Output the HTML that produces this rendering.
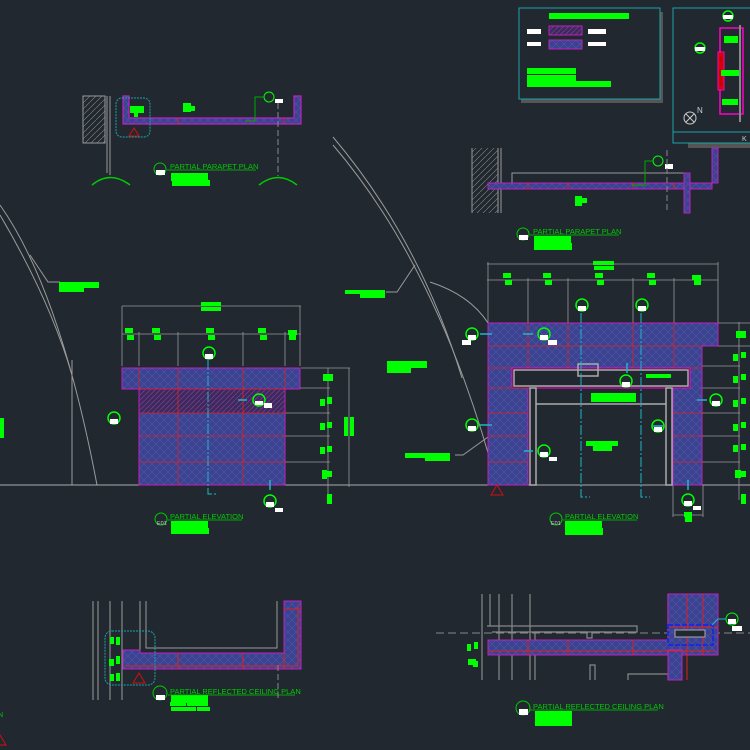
<!DOCTYPE html>
<html><head><meta charset="utf-8"><style>
html,body{margin:0;padding:0;background:#212830;}
svg{display:block}
text{font-family:"Liberation Sans",sans-serif;}
</style></head><body>
<svg width="750" height="750" viewBox="0 0 750 750" xmlns="http://www.w3.org/2000/svg">
<defs>
<pattern id="h" width="8" height="8" patternUnits="userSpaceOnUse">
<rect width="8" height="8" fill="#3b4290"/>
<path d="M0 0L8 8M8 0L0 8" stroke="#4e56a8" stroke-width="0.6"/>
</pattern>
<pattern id="hd" width="5" height="5" patternUnits="userSpaceOnUse">
<rect width="5" height="5" fill="#3a2a60"/>
<path d="M0 5L5 0" stroke="#7a3a80" stroke-width="0.8"/>
</pattern>
<pattern id="wall" width="6" height="6" patternUnits="userSpaceOnUse">
<path d="M0 6L6 0" stroke="#888" stroke-width="0.6"/>
</pattern>
</defs>
<rect width="750" height="750" fill="#212830"/>

<!-- Curves -->
<g fill="none" stroke="#9a9a9a" stroke-width="1">
<path d="M0 205 Q60 290 97 485"/>
<path d="M0 215 Q50 300 72 375"/>
<line x1="72" y1="360" x2="72" y2="485"/>
<path d="M333 137 Q420 240 462 378"/>
<path d="M333 145 Q440 270 497 485"/>
<path d="M430 282 Q470 295 488 323"/>
<line x1="0" y1="485" x2="750" y2="485" stroke="#aaa"/>
<polyline points="30,255 48,282 60,282"/>
<polyline points="415,265 397,292 386,292"/>
<polyline points="488,437 463,455 455,455"/>
</g>

<!-- Legend box -->
<rect x="521" y="12" width="142" height="91" fill="#555"/>
<rect x="519" y="8" width="141" height="91" fill="#212830" stroke="#1aa3a8" stroke-width="1"/>
<rect x="549" y="13" width="80" height="6" fill="#00ff00"/>
<rect x="527" y="29" width="14" height="5" fill="#fff"/>
<rect x="549" y="26" width="33" height="9" fill="url(#hd)" stroke="#c020c0"/>
<rect x="588" y="29" width="18" height="5" fill="#fff"/>
<rect x="527" y="42" width="14" height="4" fill="#fff"/>
<rect x="549" y="40" width="33" height="9" fill="url(#h)" stroke="#c020c0"/>
<rect x="588" y="42" width="18" height="4" fill="#fff"/>
<rect x="527" y="68" width="49" height="6" fill="#00ff00"/>
<rect x="527" y="75" width="49" height="12" fill="#00ff00"/>
<rect x="527" y="81" width="84" height="6" fill="#00ff00"/>

<!-- Key plan -->
<rect x="688" y="143" width="62" height="5" fill="#555"/>
<rect x="673" y="8" width="80" height="135" fill="#212830" stroke="#1aa3a8"/>
<line x1="673" y1="132" x2="750" y2="132" stroke="#1aa3a8"/>
<text x="742" y="141" font-size="7" fill="#ccc">K</text>
<rect x="720" y="28" width="23" height="86" fill="none" stroke="#ff00cc" stroke-width="1.5"/>
<rect x="718" y="52" width="6" height="38" fill="#c00" stroke="#ff00cc"/>
<rect x="724" y="36" width="14" height="7" fill="#00ff00"/>
<rect x="721" y="70" width="18" height="6" fill="#00ff00"/>
<rect x="722" y="99" width="16" height="6" fill="#00ff00"/>
<line x1="740" y1="25" x2="740" y2="122" stroke="#888" stroke-width="2"/>
<circle cx="728" cy="16" r="5" fill="none" stroke="#00ff00" stroke-width="1.5"/><rect x="723" y="15" width="10" height="4" fill="#fff"/>
<circle cx="700" cy="48" r="5" fill="none" stroke="#00ff00" stroke-width="1.5"/><rect x="695" y="47" width="10" height="4" fill="#fff"/>
<circle cx="690" cy="118" r="6" fill="none" stroke="#ccc"/><path d="M686 114L694 122M694 114L686 122" stroke="#ccc"/>
<text x="697" y="113" font-size="8" fill="#ccc">N</text>

<!-- Plan 8 (top left) -->
<rect x="83" y="96" width="22" height="47" fill="url(#wall)" stroke="#999"/>
<line x1="107" y1="96" x2="107" y2="173" stroke="#999"/>
<line x1="110" y1="96" x2="110" y2="175" stroke="#999"/>
<path d="M123 96 L123 124 L301 124 L301 96 L294 96 L294 118 L129 118 L129 96 Z" fill="url(#h)" stroke="#c020c0" stroke-width="1.2"/>
<line x1="178" y1="118" x2="178" y2="124" stroke="#e02020"/><line x1="284" y1="118" x2="284" y2="124" stroke="#e02020"/>
<rect x="116" y="98" width="34" height="39" rx="6" fill="none" stroke="#1aa3a8" stroke-dasharray="2,1"/>
<path d="M134 128L129 136L139 136Z" fill="none" stroke="#d01010"/>
<rect x="130" y="106" width="14" height="7" fill="#00ff00"/><rect x="134" y="110" width="4" height="7" fill="#00ff00"/>
<rect x="183" y="103" width="8" height="9" fill="#00ff00"/><rect x="190" y="106" width="5" height="5" fill="#00ff00"/>
<circle cx="269" cy="97" r="5" fill="none" stroke="#00ff00"/><rect x="275" y="99" width="8" height="4" fill="#fff"/>
<polyline points="265,97 255,97 255,121 245,121" fill="none" stroke="#00aa00"/>
<line x1="278" y1="103" x2="278" y2="176" stroke="#888" stroke-dasharray="6,3"/>
<path d="M92 185 Q110 170 130 185" fill="none" stroke="#00cc00" stroke-width="1.5"/>
<path d="M259 185 Q278 170 297 185" fill="none" stroke="#00cc00" stroke-width="1.5"/>
<circle cx="160" cy="169" r="6" fill="none" stroke="#00cc00"/><rect x="156" y="170" width="9" height="5" fill="#fff"/>
<text x="170" y="169" font-size="7.5" fill="#00cc00">PARTIAL PARAPET PLAN</text>
<line x1="167" y1="170" x2="256" y2="170" stroke="#00cc00" stroke-width="0.7"/>
<rect x="171" y="173" width="37" height="8" fill="#00ff00"/><rect x="172" y="180" width="38" height="6" fill="#00ff00"/>
<rect x="59" y="282" width="40" height="6" fill="#00ff00"/><rect x="59" y="286" width="25" height="6" fill="#00ff00"/>

<!-- Plan 9 (top right) -->
<rect x="472" y="148" width="26" height="65" fill="url(#wall)"/>
<line x1="472" y1="148" x2="472" y2="213" stroke="#999"/><line x1="498" y1="148" x2="498" y2="213" stroke="#999"/><line x1="501" y1="148" x2="501" y2="213" stroke="#999"/>
<rect x="512" y="173" width="172" height="10" fill="none" stroke="#999"/>
<path d="M488 183 L718 183 L718 148 L712 148 L712 189 L488 189 Z" fill="url(#h)" stroke="#c020c0"/>
<rect x="684" y="173" width="6" height="40" fill="url(#h)" stroke="#c020c0"/>
<line x1="528" y1="183" x2="528" y2="189" stroke="#e02020"/><line x1="568" y1="183" x2="568" y2="189" stroke="#e02020"/><line x1="633" y1="183" x2="633" y2="189" stroke="#e02020"/><line x1="674" y1="183" x2="674" y2="189" stroke="#e02020"/>
<circle cx="658" cy="161" r="5" fill="none" stroke="#00ff00"/><rect x="665" y="164" width="8" height="5" fill="#fff"/>
<polyline points="653,161 645,161 645,185 632,185" fill="none" stroke="#00aa00"/>
<rect x="575" y="196" width="7" height="10" fill="#00ff00"/><rect x="582" y="198" width="5" height="5" fill="#00ff00"/>
<line x1="667" y1="150" x2="667" y2="213" stroke="#888" stroke-dasharray="6,3"/>
<circle cx="523" cy="234" r="6" fill="none" stroke="#00cc00"/><rect x="519" y="235" width="9" height="5" fill="#fff"/>
<text x="533" y="234" font-size="7.5" fill="#00cc00">PARTIAL PARAPET PLAN</text>
<line x1="530" y1="235" x2="619" y2="235" stroke="#00cc00" stroke-width="0.7"/>
<rect x="534" y="236" width="37" height="7" fill="#00ff00"/><rect x="534" y="243" width="38" height="7" fill="#00ff00"/>

<!-- Elevation 2 -->
<g stroke="#999" fill="none" stroke-width="0.8">
<line x1="122" y1="306" x2="301" y2="306"/>
<line x1="122" y1="334" x2="301" y2="334"/>
<line x1="122" y1="306" x2="122" y2="366"/><line x1="139" y1="332" x2="139" y2="366"/><line x1="178" y1="332" x2="178" y2="366"/><line x1="243" y1="332" x2="243" y2="366"/><line x1="285" y1="332" x2="285" y2="366"/><line x1="300" y1="306" x2="300" y2="366"/>
<line x1="301" y1="368" x2="350" y2="368"/><line x1="285" y1="388" x2="330" y2="388"/><line x1="285" y1="413" x2="330" y2="413"/><line x1="285" y1="436" x2="330" y2="436"/><line x1="285" y1="462" x2="330" y2="462"/>
<line x1="328" y1="368" x2="328" y2="500"/><line x1="349" y1="368" x2="349" y2="487"/>
</g>
<rect x="122" y="368" width="178" height="21" fill="url(#h)" stroke="#c020c0"/>
<rect x="139" y="389" width="146" height="24" fill="url(#hd)"/>
<rect x="139" y="413" width="146" height="72" fill="url(#h)"/>
<rect x="139" y="389" width="146" height="96" fill="none" stroke="#c020c0"/>
<g stroke="#e02020" stroke-width="0.8">
<line x1="139" y1="368" x2="139" y2="389"/><line x1="178" y1="368" x2="178" y2="485"/><line x1="243" y1="368" x2="243" y2="485"/><line x1="285" y1="368" x2="285" y2="389"/>
<line x1="139" y1="389" x2="285" y2="389"/><line x1="139" y1="413" x2="285" y2="413"/><line x1="139" y1="436" x2="285" y2="436"/><line x1="139" y1="462" x2="285" y2="462"/>
</g>
<polyline points="208,360 208,494 217,494" fill="none" stroke="#1ab8c8" stroke-dasharray="10,2,2,2"/>
<line x1="238" y1="400" x2="247" y2="400" stroke="#1ab8c8" stroke-width="1.5"/>
<line x1="270" y1="480" x2="270" y2="490" stroke="#1ab8c8" stroke-width="1.5"/>
<g fill="none" stroke="#00ff00" stroke-width="1.5">
<circle cx="209" cy="353" r="6"/><circle cx="259" cy="400" r="6"/><circle cx="270" cy="501" r="6"/><circle cx="114" cy="418" r="6"/>
</g>
<g fill="#fff"><rect x="205" y="354" width="8" height="5"/><rect x="255" y="401" width="8" height="4"/><rect x="264" y="403" width="8" height="5"/><rect x="266" y="502" width="8" height="5"/><rect x="275" y="508" width="8" height="4"/><rect x="110" y="419" width="8" height="5"/></g>
<g fill="#00ff00">
<rect x="201" y="302" width="20" height="4"/><rect x="201" y="307" width="20" height="4"/>
<rect x="125" y="328" width="8" height="5"/><rect x="127" y="335" width="7" height="5"/>
<rect x="152" y="328" width="8" height="5"/><rect x="154" y="335" width="7" height="5"/>
<rect x="206" y="328" width="8" height="5"/><rect x="208" y="335" width="7" height="5"/>
<rect x="258" y="328" width="8" height="5"/><rect x="260" y="335" width="7" height="5"/>
<rect x="288" y="330" width="9" height="5"/><rect x="289" y="335" width="7" height="5"/>
<rect x="323" y="374" width="10" height="7"/>
<rect x="320" y="399" width="5" height="7"/><rect x="327" y="397" width="5" height="7"/>
<rect x="320" y="423" width="5" height="7"/><rect x="327" y="422" width="5" height="6"/>
<rect x="320" y="447" width="5" height="7"/><rect x="327" y="446" width="5" height="6"/>
<rect x="322" y="470" width="5" height="9"/><rect x="326" y="471" width="6" height="6"/>
<rect x="327" y="494" width="5" height="10"/>
<rect x="344" y="417" width="4" height="19"/><rect x="350" y="417" width="4" height="19"/>
<rect x="0" y="418" width="4" height="20"/>
<rect x="171" y="521" width="37" height="8"/><rect x="171" y="528" width="38" height="6"/>
<rect x="387" y="361" width="40" height="7"/><rect x="387" y="366" width="24" height="7"/>
<rect x="345" y="290" width="40" height="4"/><rect x="360" y="290" width="25" height="8"/>
<rect x="405" y="453" width="45" height="5"/><rect x="425" y="455" width="25" height="6"/>
</g>
<circle cx="161" cy="519" r="6" fill="none" stroke="#00cc00"/>
<text x="157" y="525" font-size="5.5" fill="#ccc">E01</text>
<text x="170" y="519" font-size="7.5" fill="#00cc00">PARTIAL ELEVATION</text>
<line x1="168" y1="520" x2="242" y2="520" stroke="#00cc00" stroke-width="0.7"/>

<!-- Elevation 3 -->
<g stroke="#999" fill="none" stroke-width="0.8">
<line x1="487" y1="264" x2="718" y2="264"/><line x1="487" y1="280" x2="718" y2="280"/>
<line x1="488" y1="262" x2="488" y2="323"/><line x1="528" y1="278" x2="528" y2="323"/><line x1="568" y1="278" x2="568" y2="323"/><line x1="633" y1="278" x2="633" y2="323"/><line x1="674" y1="278" x2="674" y2="323"/><line x1="718" y1="262" x2="718" y2="323"/>
<line x1="718" y1="323" x2="750" y2="323"/><line x1="702" y1="346" x2="750" y2="346"/><line x1="702" y1="366" x2="740" y2="366"/><line x1="702" y1="388" x2="740" y2="388"/><line x1="702" y1="413" x2="740" y2="413"/><line x1="702" y1="436" x2="740" y2="436"/><line x1="702" y1="462" x2="740" y2="462"/>
<line x1="739" y1="322" x2="739" y2="500"/>
<line x1="673" y1="485" x2="673" y2="517"/><line x1="703" y1="485" x2="703" y2="517"/><line x1="673" y1="515" x2="703" y2="515"/>
</g>
<path d="M488 323 L718 323 L718 346 L702 346 L702 485 L673 485 L673 388 L528 388 L528 485 L488 485 Z" fill="url(#h)" stroke="#c020c0"/>
<rect x="512" y="368" width="178" height="20" fill="#212830" stroke="#ff00cc"/>
<g stroke="#e02020" stroke-width="0.8">
<line x1="528" y1="323" x2="528" y2="368"/><line x1="568" y1="323" x2="568" y2="368"/><line x1="633" y1="323" x2="633" y2="368"/><line x1="674" y1="323" x2="674" y2="368"/>
<line x1="488" y1="346" x2="702" y2="346"/><line x1="488" y1="368" x2="512" y2="368"/><line x1="690" y1="368" x2="702" y2="368"/>
<line x1="488" y1="388" x2="528" y2="388"/><line x1="488" y1="413" x2="528" y2="413"/><line x1="488" y1="436" x2="528" y2="436"/><line x1="488" y1="462" x2="528" y2="462"/>
<line x1="673" y1="413" x2="702" y2="413"/><line x1="673" y1="436" x2="702" y2="436"/><line x1="673" y1="462" x2="702" y2="462"/>
</g>
<g fill="none" stroke="#aaa" stroke-width="1.5">
<rect x="514" y="370" width="174" height="16"/>
<rect x="530" y="388" width="6" height="97"/><rect x="666" y="388" width="6" height="97"/>
<line x1="536" y1="404" x2="666" y2="404"/>
<rect x="578" y="364" width="20" height="12"/>
</g>
<g fill="#00ff00">
<rect x="646" y="374" width="25" height="4"/>
<rect x="591" y="393" width="45" height="9"/>
<rect x="586" y="441" width="32" height="5"/><rect x="593" y="444" width="19" height="7"/>
<rect x="593" y="261" width="21" height="4"/><rect x="594" y="266" width="20" height="4"/>
<rect x="503" y="273" width="8" height="5"/><rect x="505" y="280" width="7" height="5"/>
<rect x="543" y="273" width="8" height="5"/><rect x="545" y="280" width="7" height="5"/>
<rect x="595" y="273" width="8" height="5"/><rect x="597" y="280" width="7" height="5"/>
<rect x="647" y="273" width="8" height="5"/><rect x="649" y="280" width="7" height="5"/>
<rect x="692" y="275" width="9" height="5"/><rect x="694" y="280" width="7" height="5"/>
<rect x="736" y="331" width="10" height="7"/>
<rect x="733" y="354" width="5" height="7"/><rect x="741" y="352" width="5" height="6"/>
<rect x="733" y="376" width="5" height="7"/><rect x="741" y="374" width="5" height="6"/>
<rect x="733" y="400" width="5" height="7"/><rect x="741" y="398" width="5" height="6"/>
<rect x="733" y="424" width="5" height="7"/><rect x="741" y="422" width="5" height="6"/>
<rect x="733" y="445" width="5" height="7"/><rect x="741" y="444" width="5" height="6"/>
<rect x="735" y="470" width="6" height="8"/><rect x="740" y="471" width="6" height="6"/>
<rect x="741" y="494" width="5" height="10"/>
<rect x="684" y="512" width="8" height="5"/><rect x="685" y="517" width="7" height="5"/>
<rect x="565" y="521" width="37" height="8"/><rect x="565" y="528" width="38" height="7"/>
</g>
<g stroke="#1ab8c8" fill="none" stroke-dasharray="10,2,2,2">
<polyline points="581,313 581,497 590,497"/><polyline points="641,313 641,497 650,497"/>
</g>
<g stroke="#1ab8c8" stroke-width="1.5">
<line x1="480" y1="334" x2="492" y2="334"/><line x1="523" y1="334" x2="533" y2="334"/><line x1="480" y1="425" x2="492" y2="425"/><line x1="524" y1="451" x2="533" y2="451"/>
<line x1="627" y1="363" x2="627" y2="373"/><line x1="653" y1="426" x2="663" y2="426"/><line x1="697" y1="400" x2="707" y2="400"/><line x1="688" y1="480" x2="688" y2="490"/>
</g>
<g fill="none" stroke="#00ff00" stroke-width="1.5">
<circle cx="582" cy="305" r="6"/><circle cx="642" cy="305" r="6"/><circle cx="472" cy="334" r="6"/><circle cx="544" cy="334" r="6"/><circle cx="626" cy="381" r="6"/><circle cx="716" cy="400" r="6"/><circle cx="472" cy="425" r="6"/><circle cx="658" cy="426" r="6"/><circle cx="544" cy="451" r="6"/><circle cx="688" cy="500" r="6"/>
</g>
<g fill="#fff">
<rect x="578" y="306" width="8" height="5"/><rect x="638" y="306" width="8" height="5"/><rect x="468" y="335" width="8" height="5"/><rect x="462" y="340" width="9" height="5"/><rect x="540" y="335" width="8" height="5"/><rect x="548" y="340" width="9" height="5"/><rect x="622" y="382" width="8" height="5"/><rect x="712" y="401" width="8" height="5"/><rect x="468" y="426" width="8" height="5"/><rect x="654" y="427" width="8" height="5"/><rect x="540" y="452" width="8" height="5"/><rect x="549" y="457" width="8" height="4"/><rect x="684" y="501" width="8" height="5"/><rect x="693" y="506" width="8" height="4"/>
</g>
<path d="M497 485L491 495L503 495Z" fill="none" stroke="#d01010"/>
<circle cx="556" cy="519" r="6" fill="none" stroke="#00cc00"/>
<text x="551" y="525" font-size="5.5" fill="#ccc">E01</text>
<text x="565" y="519" font-size="7.5" fill="#00cc00">PARTIAL ELEVATION</text>
<line x1="563" y1="520" x2="637" y2="520" stroke="#00cc00" stroke-width="0.7"/>

<!-- RCP 5 (bottom left) -->
<g stroke="#888" stroke-width="1.2">
<line x1="93" y1="601" x2="93" y2="700"/><line x1="98" y1="601" x2="98" y2="700"/><line x1="110" y1="601" x2="110" y2="700"/><line x1="122" y1="601" x2="122" y2="700"/><line x1="140" y1="601" x2="140" y2="650"/>
</g>
<polyline points="146,601 146,648 277,648 277,601" fill="none" stroke="#999"/>
<path d="M123 650 L140 650 L140 653 L284 653 L284 601 L301 601 L301 669 L123 669 Z" fill="url(#h)" stroke="#c020c0"/>
<g stroke="#e02020"><line x1="125" y1="666" x2="298" y2="666"/><line x1="298" y1="605" x2="298" y2="666"/><line x1="178" y1="653" x2="178" y2="669"/><line x1="243" y1="653" x2="243" y2="669"/><line x1="284" y1="653" x2="284" y2="669"/><line x1="284" y1="609" x2="301" y2="609"/></g>
<rect x="105" y="631" width="50" height="54" rx="7" fill="none" stroke="#1aa3a8" stroke-dasharray="2,1"/>
<path d="M139 673L133 683L145 683Z" fill="none" stroke="#d01010"/>
<g fill="#00ff00"><rect x="110" y="637" width="4" height="7"/><rect x="116" y="637" width="4" height="8"/><rect x="109" y="659" width="5" height="7"/><rect x="116" y="656" width="4" height="8"/><rect x="110" y="674" width="4" height="7"/><rect x="116" y="673" width="4" height="8"/>
<rect x="171" y="695" width="37" height="8"/><rect x="170" y="702" width="16" height="4"/><rect x="187" y="702" width="21" height="4"/><rect x="171" y="707" width="25" height="4"/><rect x="197" y="707" width="13" height="4"/></g>
<circle cx="160" cy="693" r="7" fill="none" stroke="#00cc00"/><rect x="156" y="695" width="9" height="5" fill="#fff"/>
<text x="170" y="694" font-size="7.5" fill="#00cc00">PARTIAL REFLECTED CEILING PLAN</text>
<line x1="168" y1="695" x2="295" y2="695" stroke="#00cc00" stroke-width="0.7"/>
<line x1="278" y1="665" x2="278" y2="700" stroke="#888" stroke-dasharray="6,3"/>
<text x="-2" y="717" font-size="7" fill="#00cc00">N</text>
<path d="M0 735L6 745L-6 745Z" fill="none" stroke="#d01010"/>

<!-- RCP 6 (bottom right) -->
<line x1="436" y1="633" x2="750" y2="633" stroke="#888" stroke-dasharray="8,4"/>
<g stroke="#888" stroke-width="1.2" fill="none">
<line x1="482" y1="594" x2="482" y2="680"/><line x1="490" y1="594" x2="490" y2="626"/><line x1="499" y1="594" x2="499" y2="680"/><line x1="512" y1="594" x2="512" y2="680"/><line x1="530" y1="594" x2="530" y2="680"/>
<polyline points="487,626 637,626 637,632 492,632"/>
<polyline points="535,680 535,632 587,632 587,638 592,638 592,632 605,632"/>
<polyline points="590,680 590,665 595,665 595,680"/>
<polyline points="628,680 628,674 668,674 668,680"/>
<line x1="670" y1="594" x2="670" y2="680"/><line x1="668" y1="594" x2="668" y2="640"/>
</g>
<path d="M488 640 L668 640 L668 594 L718 594 L718 655 L488 655 Z" fill="url(#h)" stroke="#c020c0"/>
<rect x="668" y="650" width="14" height="30" fill="url(#h)" stroke="#c020c0"/>
<g stroke="#e02020"><line x1="488" y1="651" x2="715" y2="651"/><line x1="528" y1="640" x2="528" y2="655"/><line x1="568" y1="640" x2="568" y2="655"/><line x1="633" y1="640" x2="633" y2="655"/><line x1="703" y1="594" x2="703" y2="655"/><line x1="687" y1="594" x2="687" y2="680"/><line x1="668" y1="627" x2="718" y2="627"/></g>
<rect x="668" y="625" width="45" height="20" fill="none" stroke="#1a2ae0" stroke-width="2" stroke-dasharray="5,2"/>
<rect x="675" y="630" width="30" height="7" fill="#212830" stroke="#aaa"/>
<circle cx="732" cy="619" r="6" fill="none" stroke="#00ff00"/><rect x="728" y="619" width="8" height="5" fill="#fff"/><rect x="732" y="626" width="10" height="5" fill="#fff"/>
<polyline points="726,619 718,619 712,625" fill="none" stroke="#1ab8c8"/>
<g fill="#00ff00"><rect x="467" y="644" width="4" height="7"/><rect x="474" y="642" width="4" height="7"/><rect x="468" y="659" width="8" height="6"/><rect x="473" y="661" width="5" height="6"/>
<rect x="535" y="711" width="37" height="15"/></g>
<circle cx="523" cy="708" r="7" fill="none" stroke="#00cc00"/><rect x="519" y="709" width="9" height="6" fill="#fff"/>
<text x="533" y="709" font-size="7.5" fill="#00cc00">PARTIAL REFLECTED CEILING PLAN</text>
<line x1="530" y1="710" x2="658" y2="710" stroke="#00cc00" stroke-width="0.7"/>
</svg>
</body></html>
